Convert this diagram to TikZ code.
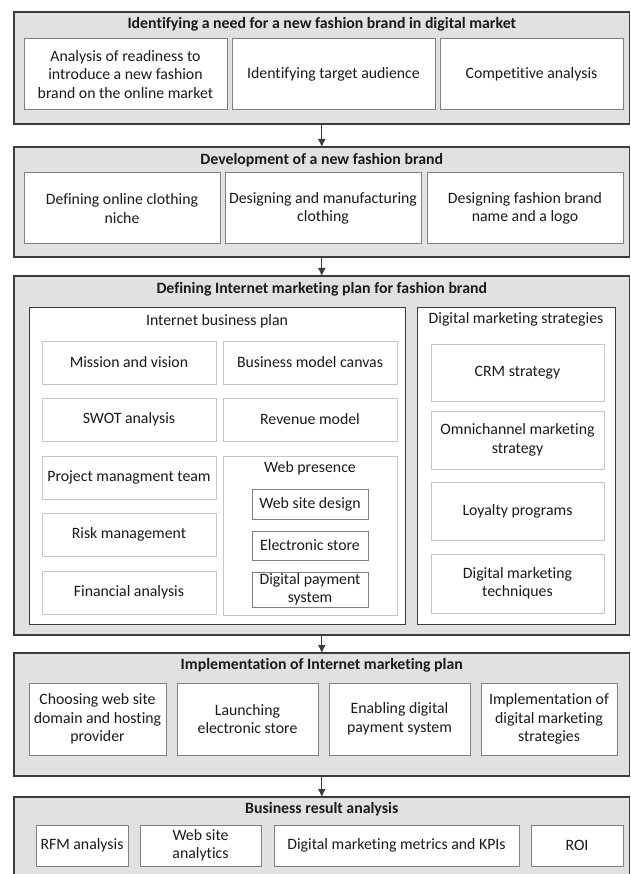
\documentclass[tikz,border=0pt]{standalone}
\usepackage{fontspec}
\setmainfont[Ligatures=NoCommon]{Carlito}
\usetikzlibrary{arrows.meta}
\definecolor{outerfill}{HTML}{E1E1E1}
\definecolor{outerdraw}{HTML}{3C3C3C}
\definecolor{middraw}{HTML}{7F7F7F}
\definecolor{lightdraw}{HTML}{C6C6C6}
\definecolor{txt}{HTML}{1A1A1A}
\newcommand{\mybox}[7]{\node[#2, minimum width={#5-#3}, minimum height={#6-#4}] (#1) at ({(#3+#5)/2},{(#4+#6)/2}) {#7};}
\begin{document}
\begin{tikzpicture}[x=1pt,y=-1pt,
  every node/.style={inner sep=0pt, outer sep=0pt, text=txt, font=\fontsize{15.8}{18.5}\selectfont, align=center},
  outerbox/.style={draw=outerdraw, fill=outerfill, line width=1.4pt},
  stagebox/.style={draw=middraw, fill=white, line width=1pt},
  panelbox/.style={draw=outerdraw, fill=white, line width=1pt},
  softbox/.style={draw=lightdraw, fill=white, line width=1pt},
  webbox/.style={draw=middraw, fill=white, line width=1pt},
  ttl/.style={font=\fontsize{15.8}{18.5}\selectfont\bfseries},
  sub/.style={font=\fontsize{15.8}{18.5}\selectfont},
  flow/.style={draw=outerdraw, line width=1.2pt, -{Latex[length=8pt,width=8pt]}}
]
\useasboundingbox (0,0) rectangle (630,874);
% ---------- Stage 1
\mybox{s1}{outerbox}{14}{12}{629.5}{124}{}
\node[ttl] (s1t) at (321.75,24) {Identifying a need for a new fashion brand in digital market};
\mybox{a1}{stagebox}{24}{38.5}{227}{110}{Analysis of readiness to\\introduce a new fashion\\brand on the online market}
\mybox{a2}{stagebox}{232}{38.5}{435}{110}{Identifying target audience}
\mybox{a3}{stagebox}{440}{38.5}{623}{110}{Competitive analysis}
% ---------- Stage 2
\mybox{s2}{outerbox}{14}{147}{629.5}{257}{}
\node[ttl] (s2t) at (321.75,160) {Development of a new fashion brand};
\mybox{b1}{stagebox}{24}{173}{220}{244}{Defining online clothing\\niche}
\mybox{b2}{stagebox}{225}{173}{421}{244}{Designing and manufacturing\\clothing}
\mybox{b3}{stagebox}{427}{173}{623}{244}{Designing fashion brand\\name and a logo}
% ---------- Stage 3
\mybox{s3}{outerbox}{14}{276}{629.5}{635}{}
\node[ttl] (s3t) at (321.75,289) {Defining Internet marketing plan for fashion brand};
\mybox{ibp}{panelbox}{29}{307}{405}{624}{}
\node[sub] (ibpt) at (217,321) {Internet business plan};
\mybox{c1}{softbox}{42}{341}{216}{384}{Mission and vision}
\mybox{c2}{softbox}{223}{341}{397}{384}{Business model canvas}
\mybox{c3}{softbox}{42}{398}{216}{441}{SWOT analysis}
\mybox{c4}{softbox}{223}{398}{397}{441}{Revenue model}
\mybox{c5}{softbox}{42}{456}{216}{499}{Project managment team}
\mybox{c6}{softbox}{42}{513}{216}{556}{Risk management}
\mybox{c7}{softbox}{42}{571}{216}{614}{Financial analysis}
\mybox{wp}{softbox}{223}{456}{397}{615}{}
\node[sub] (wpt) at (310,468) {Web presence};
\mybox{w1}{webbox}{252}{489}{368}{519}{Web site design}
\mybox{w2}{webbox}{252}{531}{368}{560}{Electronic store}
\mybox{w3}{webbox}{252}{572}{368}{607}{Digital payment\\system}
\mybox{dms}{panelbox}{417}{307}{615}{624}{}
\node[sub] (dmst) at (516,319) {Digital marketing strategies};
\mybox{d1}{softbox}{431}{344}{604}{401}{CRM strategy}
\mybox{d2}{softbox}{431}{411}{604}{469}{Omnichannel marketing\\strategy}
\mybox{d3}{softbox}{431}{482}{604}{540}{Loyalty programs}
\mybox{d4}{softbox}{431}{554}{604}{613}{Digital marketing\\techniques}
% ---------- Stage 4
\mybox{s4}{outerbox}{14}{653}{629.5}{776}{}
\node[ttl] (s4t) at (321.75,665) {Implementation of Internet marketing plan};
\mybox{e1}{stagebox}{29}{683}{166}{755}{Choosing web site\\domain and hosting\\provider}
\mybox{e2}{stagebox}{177}{683}{318}{755}{Launching\\electronic store}
\mybox{e3}{stagebox}{329}{683}{470}{755}{Enabling digital\\payment system}
\mybox{e4}{stagebox}{481}{683}{617}{755}{Implementation of\\digital marketing\\strategies}
% ---------- Stage 5
\mybox{s5}{outerbox}{14}{797}{629.5}{900}{}
\node[ttl] (s5t) at (321.75,809) {Business result analysis};
\mybox{f1}{stagebox}{36}{825}{128}{866}{RFM analysis}
\mybox{f2}{stagebox}{140}{825}{261}{866}{Web site\\analytics}
\mybox{f3}{stagebox}{274}{825}{519}{866}{Digital marketing metrics and KPIs}
\mybox{f4}{stagebox}{531}{825}{623}{866}{ROI}
% ---------- Flow arrows
\draw[flow] (s1.south) -- (s2.north);
\draw[flow] (s2.south) -- (s3.north);
\draw[flow] (s3.south) -- (s4.north);
\draw[flow] (s4.south) -- (s5.north);
\end{tikzpicture}
\end{document}
